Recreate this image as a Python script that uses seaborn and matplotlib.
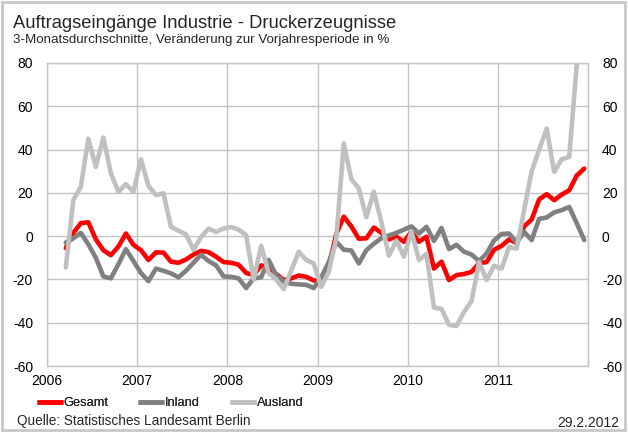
import numpy as np
import pandas as pd
import matplotlib
matplotlib.use("Agg")
import matplotlib.pyplot as plt
from matplotlib.patches import Rectangle
import seaborn as sns

# Monate: März 2006 bis Dezember 2011
monate = pd.period_range("2006-03", "2011-12", freq="M")

gesamt = [
    -5.5, 1.5, 6.0, 6.4, -1.5, -6.5, -8.8, -4.8, 1.2, -4.0,
    -6.5, -11.0, -7.5, -7.6, -11.8, -12.3, -10.8, -8.5, -6.8, -7.4,
    -9.5, -12.0, -12.3, -13.2, -17.0, -18.0, -13.5, -14.5, -17.5, -20.3,
    -19.5, -18.2, -18.8, -20.5, -20.5, -14.0, 1.0, 9.0, 4.5, -1.2,
    -1.0, 4.0, 1.5, -1.5, -0.3, -2.6, 2.0, -2.6, -0.3, -15.0,
    -11.8, -20.3, -18.0, -17.5, -16.5, -12.5, -12.0, -6.3, -4.5, -1.5,
    -3.2, 4.5, 7.7, 17.0, 19.4, 16.6, 19.2, 21.2, 28.0, 31.2,
]
inland = [
    -3.0, -1.0, 1.5, -3.8, -10.0, -18.6, -19.5, -13.0, -6.0, -11.5,
    -17.0, -20.8, -15.0, -16.0, -17.2, -19.0, -16.0, -12.3, -8.6, -11.5,
    -13.5, -18.6, -18.8, -19.5, -24.0, -19.5, -19.0, -11.0, -18.0, -21.0,
    -22.0, -22.3, -22.5, -24.0, -19.0, -12.0, -2.6, -6.3, -6.6, -12.6,
    -6.5, -3.5, -1.0, 0.3, 1.5, 3.0, 4.5, 1.2, 4.3, -2.2,
    3.8, -6.0, -4.0, -7.2, -8.5, -11.5, -8.0, -2.0, 1.0, 1.2,
    -3.0, 2.0, -1.8, 8.0, 8.6, 11.0, 12.0, 13.5, 6.0, -1.8,
]
ausland = [
    -14.5, 16.6, 22.8, 45.0, 32.0, 45.6, 29.0, 20.5, 24.0, 20.5,
    35.5, 23.2, 19.0, 19.8, 4.3, 2.5, 0.8, -6.3, -0.5, 3.5,
    1.9, 3.5, 4.2, 3.0, 0.5, -20.0, -4.5, -17.0, -20.0, -24.5,
    -16.0, -7.2, -11.0, -12.6, -23.4, -16.5, -1.0, 42.8, 26.4, 22.0,
    8.8, 20.5, 6.5, -9.0, -2.0, -9.5, 2.2, -11.0, -8.3, -33.0,
    -33.6, -41.0, -41.5, -35.0, -30.0, -12.0, -20.3, -13.7, -15.0, -5.0,
    -5.8, 12.0, 30.0, 40.0, 49.7, 29.7, 35.5, 36.6, 79.0, 110.0,
]

jahre = [2006, 2007, 2008, 2009, 2010, 2011]
y_ticks = [-60, -40, -20, 0, 20, 40, 60, 80]

# Monatsmitte als Dezimaljahr
pos = monate.year + (monate.month - 0.5) / 12.0

df = pd.DataFrame({
    "Zeit": np.concatenate([pos, pos, pos]),
    "Wert": gesamt + inland + ausland,
    "Reihe": ["Gesamt"] * len(pos) + ["Inland"] * len(pos) + ["Ausland"] * len(pos),
})

sns.set_style("white")
plt.rcParams['font.family'] = ['Liberation Sans', 'DejaVu Sans']

fig = plt.figure(figsize=(6.28, 4.32), dpi=100)
ax = fig.add_axes([47 / 628, 1 - 366 / 432, (588 - 47) / 628, (366 - 63) / 432])

farben = {"Gesamt": "#ff0000", "Inland": "#808080", "Ausland": "#c0c0c0"}

sns.lineplot(data=df, x="Zeit", y="Wert", hue="Reihe", palette=farben,
             linewidth=3.3, ax=ax, legend=True)

ax.set_xlim(2006, 2012)
ax.set_ylim(-60, 80)
ax.set_xticks(jahre + [2012])
ax.set_xticklabels([str(j) for j in jahre] + [""])
ax.set_yticks(y_ticks)
ax.set_yticklabels([str(v) for v in y_ticks])
ax.grid(True, color="#c4c4c4", linewidth=1)
ax.set_axisbelow(True)
for s in ax.spines.values():
    s.set_color("#c4c4c4")
    s.set_linewidth(1)
ax.tick_params(axis="both", length=0, labelsize=10, colors="black")
ax.tick_params(axis="y", labelleft=True, labelright=True, pad=10)
ax.tick_params(axis="x", pad=6)
ax.set_xlabel("")
ax.set_ylabel("")

# Legende: jeder Eintrag an eigener Position
handles, labels = ax.get_legend_handles_labels()
ax.get_legend().remove()
legend_x = [37, 138, 230]
for h, lab, lx in zip(handles, labels, legend_x):
    h.set_solid_capstyle("butt")
    leg = fig.legend([h], [lab], loc="center left", bbox_to_anchor=(lx / 628, 1 - 403 / 432),
                     frameon=False, fontsize=9.3, handlelength=2.0, handletextpad=0.05,
                     borderpad=0, borderaxespad=0)
    fig.add_artist(leg)

fig.text(13 / 628, 1 - 28 / 432, "Auftragseingänge Industrie - Druckerzeugnisse",
         fontsize=13.2, va="baseline", ha="left")
fig.text(13 / 628, 1 - 43 / 432, "3-Monatsdurchschnitte, Veränderung zur Vorjahresperiode in %",
         fontsize=9.6, va="baseline", ha="left")
fig.text(17 / 628, 1 - 421 / 432, "Quelle: Statistisches Landesamt Berlin",
         fontsize=9.8, va="center", ha="left")
fig.text(619 / 628, 1 - 423 / 432, "29.2.2012", fontsize=10, va="center", ha="right")

fig.patches.append(Rectangle((0.003, 0.004), 0.993, 0.992, transform=fig.transFigure,
                             fill=False, edgecolor="#c8c8c8", linewidth=2))

fig.savefig("out.png", dpi=100)
